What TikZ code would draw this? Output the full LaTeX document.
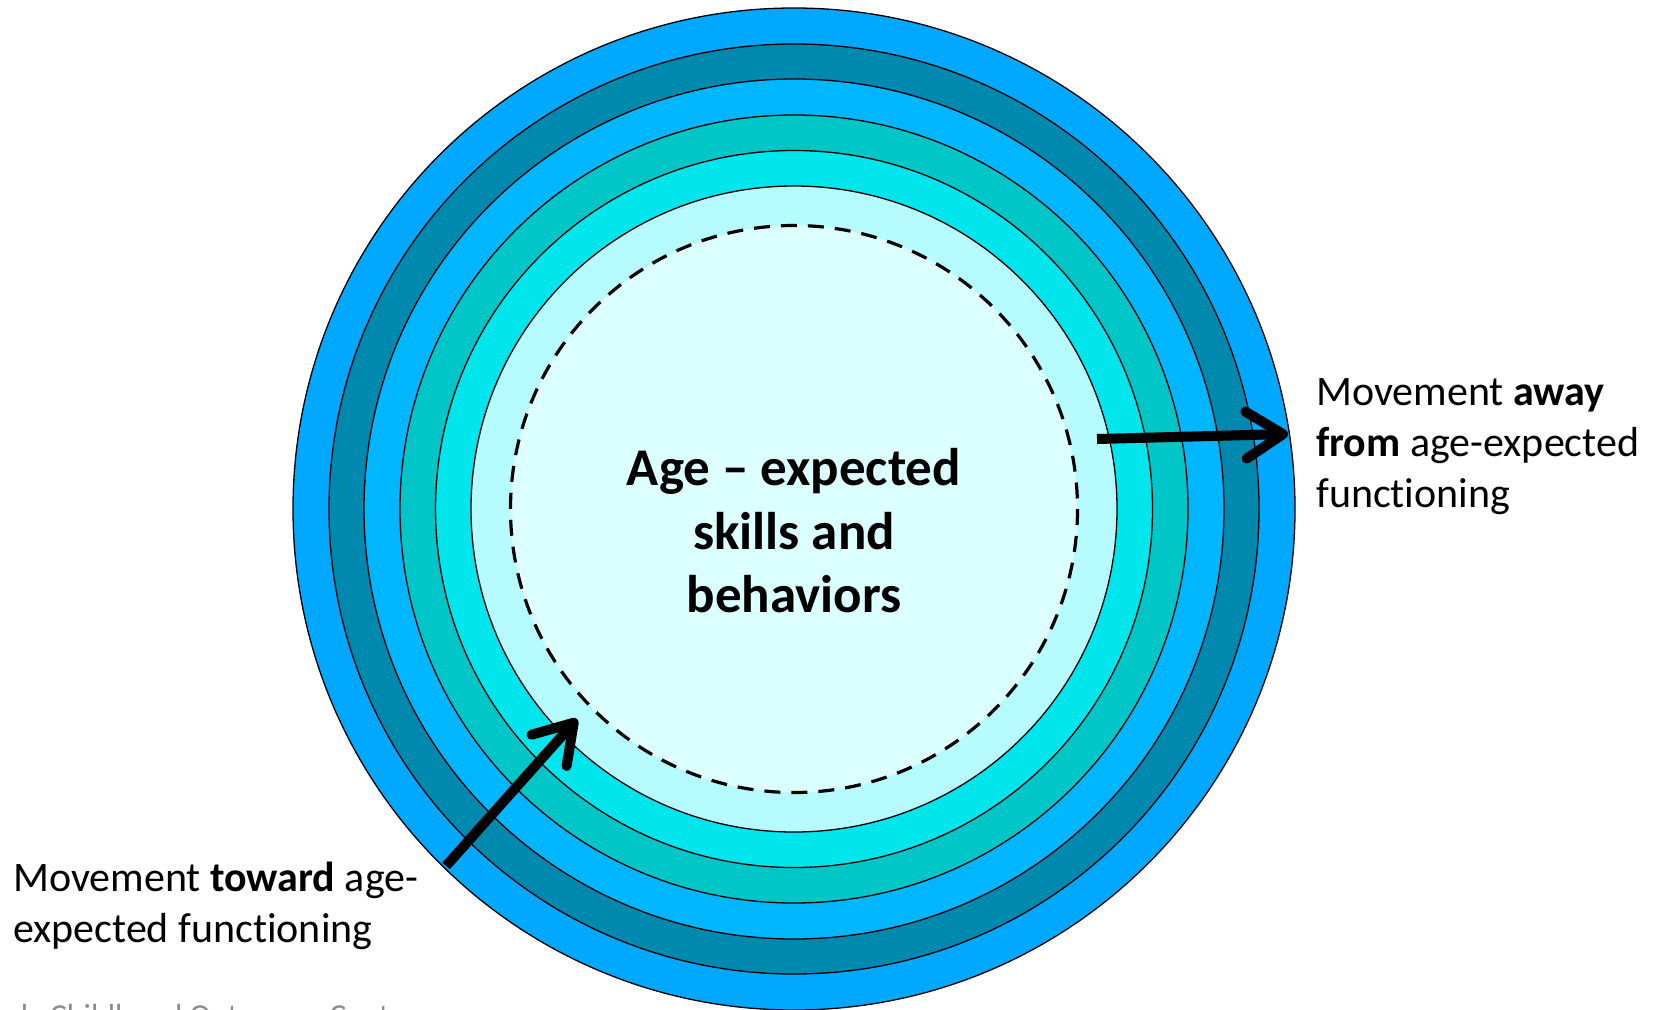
\documentclass[tikz,border=0pt]{standalone}
\usepackage{fontspec}
\setmainfont[Ligatures={NoCommon}]{Carlito}
\usetikzlibrary{arrows.meta}
\definecolor{ringA}{RGB}{0,168,255}
\definecolor{ringB}{RGB}{0,137,175}
\definecolor{ringC}{RGB}{0,182,255}
\definecolor{ringD}{RGB}{0,198,200}
\definecolor{ringE}{RGB}{0,230,236}
\definecolor{ringF}{RGB}{181,251,255}
\definecolor{coreC}{RGB}{220,255,255}
\definecolor{footgray}{RGB}{140,140,140}
\begin{document}
\begin{tikzpicture}[x=1pt,y=-1pt,
  ring/.style={draw=black,line width=1.3pt},
  bigarrow/.style={draw=black,line width=10pt,-{Straight Barb[length=37pt,width=47pt,round]}},
  lbl/.style={font=\fontsize{42}{51}\selectfont,anchor=base west,inner sep=0pt},
  core/.style={font=\bfseries\fontsize{53}{64}\selectfont,anchor=base,inner sep=0pt},
  foot/.style={font=\fontsize{32}{38}\selectfont,text=footgray,anchor=base west,inner sep=0pt}]
\useasboundingbox (0,0) rectangle (1664,1009);
\clip (0,0) rectangle (1664,1009);
\fill[white] (0,0) rectangle (1664,1009);
\coordinate (c) at (794,509);
\draw[ring,fill=ringA] (c) circle[radius=501];
\draw[ring,fill=ringB] (c) circle[radius=465];
\draw[ring,fill=ringC] (c) circle[radius=430];
\draw[ring,fill=ringD] (c) circle[radius=394];
\draw[ring,fill=ringE] (c) circle[radius=358.5];
\draw[ring,fill=ringF] (c) circle[radius=323];
\draw[black,line width=3.2pt,dash pattern=on 16pt off 11pt,fill=coreC] (c) circle[radius=283.5];
\node[core] (core1) at (794,485) {Age – expected};
\node[core] (core2) at (794,549) {skills and};
\node[core] (core3) at (794,612) {behaviors};
% arrows
\coordinate (awayS) at (1097,439);
\coordinate (awayT) at (1288,434);
\coordinate (towardS) at (446,866);
\coordinate (towardT) at (577,719);
\draw[bigarrow] (awayS) -- (awayT);
\draw[bigarrow] (towardS) -- (towardT);
% labels
\node[lbl] (away1) at (1316,405) {Movement \textbf{away}};
\node[lbl] (away2) at (1316,456) {\textbf{from} age-expected};
\node[lbl] (away3) at (1316,507) {functioning};
\node[lbl] (toward1) at (13,891) {Movement \textbf{toward} age-};
\node[lbl] (toward2) at (13,942) {expected functioning};
\node[foot] (footer) at (-21,1026) {Early Childhood Outcomes Center};
\end{tikzpicture}
\end{document}
